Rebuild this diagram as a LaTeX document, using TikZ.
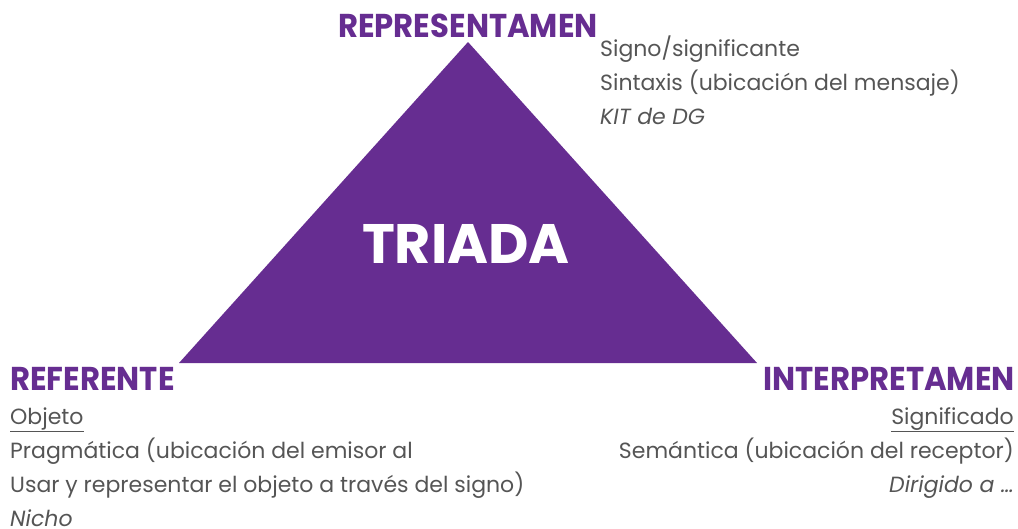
\documentclass[tikz,border=0pt]{standalone}
\usepackage{fontspec}
\setmainfont{Poppins}
\newfontfamily\headfont{Poppins}[FakeStretch=0.93]
\usetikzlibrary{positioning}
\definecolor{triadpurple}{HTML}{662D91}
\definecolor{textgray}{HTML}{555555}
\tikzset{
  heading/.style={inner sep=0pt,text=triadpurple,font=\headfont\bfseries\fontsize{33}{33}\selectfont},
  body/.style={inner sep=0pt,text=textgray,font=\fontsize{22}{22}\selectfont}
}
\begin{document}
\begin{tikzpicture}[x=1pt,y=-1pt]
\useasboundingbox (0,0) rectangle (1018,528);
% Triangle
\coordinate (apex) at (468,42);
\coordinate (baseL) at (179,363);
\coordinate (baseR) at (757,363);
\fill[triadpurple] (apex) -- (baseR) -- (baseL) -- cycle;
\node[inner sep=0pt,text=white,font=\bfseries\fontsize{55.6}{56}\selectfont] (triada) at (466,244) {TRIADA};

% Representamen (top)
\node[heading,anchor=base west] (repr) at (338,37) {REPRESENTAMEN};
\node[body,anchor=base west] (repr1) at (600,56) {Signo/significante};
\node[body,anchor=base west] (repr2) at (600,90) {Sintaxis (ubicación del mensaje)};
\node[body,anchor=base west] (repr3) at (600,124) {\itshape KIT de DG};

% Referente (bottom left)
\node[heading,anchor=base west] (refe) at (10,390) {REFERENTE};
\node[body,anchor=base west] (refe1) at (10,424) {\underline{Objeto}};
\node[body,anchor=base west] (refe2) at (10,458) {Pragmática (ubicación del emisor al};
\node[body,anchor=base west] (refe3) at (10,492) {Usar y representar el objeto a través del signo)};
\node[body,anchor=base west] (refe4) at (10,526) {\itshape Nicho};

% Interpretamen (bottom right)
\node[heading,anchor=base east] (inte) at (1015,390) {INTERPRETAMEN};
\node[body,anchor=base east] (inte1) at (1014,424) {\underline{Significado}};
\node[body,anchor=base east] (inte2) at (1014,458) {Semántica (ubicación del receptor)};
\node[body,anchor=base east] (inte3) at (1014,492) {\itshape Dirigido a …};
\end{tikzpicture}
\end{document}
